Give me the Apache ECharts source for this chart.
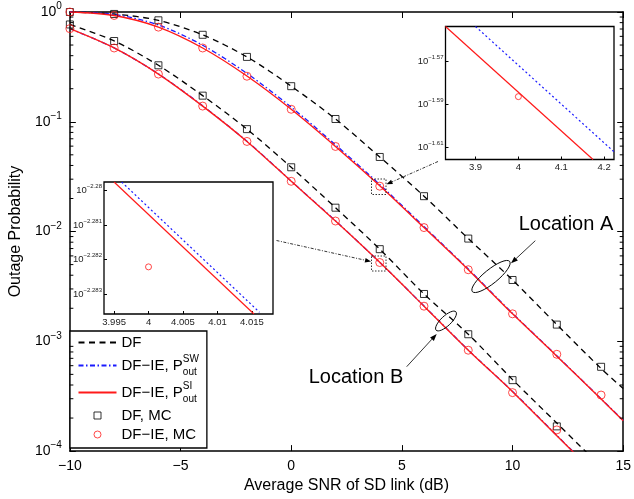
<!DOCTYPE html>
<html>
<head>
<meta charset="utf-8">
<script src="https://cdn.jsdelivr.net/npm/echarts@6/dist/echarts.min.js"></script>
<style>
  html, body { margin: 0; padding: 0; background: #fff; }
  #chart { width: 634px; height: 499px; }
</style>
</head>
<body>
<div id="chart"></div>
<script>
const FONT = '"Liberation Sans", Arial, Helvetica, sans-serif';

// ---- analytical curves: average SNR of the SD link (dB) ----
const snrCurveA = [-10, -8, -6, -4, -2, 0, 2, 4, 6, 8, 10, 12, 14, 15];
const snrCurveB = [-10, -8, -6, -4, -2, 0, 2, 4, 6, 8, 10, 12, 14];

// Location A: outage probability
const dfA = [1.0, 0.959, 0.839, 0.619, 0.390, 0.211, 0.106, 0.0478, 0.0210, 0.00863, 0.00362, 0.00142, 0.000566, 0.000371];
const swA = [1.0, 0.951, 0.762, 0.498, 0.276, 0.136, 0.0617, 0.02681, 0.01111, 0.004553, 0.001796, 0.000738, 0.0002995, 0.00019];
const siA = [1.0, 0.929, 0.728, 0.470, 0.261, 0.130, 0.0596, 0.0261, 0.01086, 0.00449, 0.00178, 0.000733, 0.000298, 0.000189];

// Location B: outage probability
const dfB = [0.771, 0.545, 0.327, 0.173, 0.0857, 0.0385, 0.0165, 0.00692, 0.00270, 0.00116, 0.000448, 0.000180, 0.0000721];
const swB = [0.705, 0.471, 0.273, 0.1396, 0.0665, 0.02883, 0.01253, 0.005242, 0.00210, 0.000834, 0.000350, 0.000139, 0.0000553];
const siB = [0.705, 0.470, 0.272, 0.139, 0.0662, 0.0287, 0.01247, 0.00524, 0.00209, 0.000830, 0.000348, 0.000138, 0.0000550];

// ---- Monte Carlo simulation points ----
const snrMcA = [-10, -8, -6, -4, -2, 0, 2, 4, 6, 8, 10, 12, 14];
const snrMcB = [-10, -8, -6, -4, -2, 0, 2, 4, 6, 8, 10, 12];
const dfMcA = [1.0, 0.96, 0.84, 0.62, 0.39, 0.211, 0.106, 0.0478, 0.021, 0.00863, 0.00362, 0.00142, 0.000586];
const ieMcA = [1.0, 0.93, 0.728, 0.47, 0.26, 0.13, 0.0596, 0.0259, 0.01087, 0.00449, 0.00178, 0.000762, 0.000324];
const dfMcB = [0.77, 0.544, 0.327, 0.173, 0.0857, 0.0385, 0.0165, 0.00691, 0.0027, 0.00116, 0.000443, 0.000168];
const ieMcB = [0.705, 0.47, 0.272, 0.139, 0.0662, 0.0287, 0.01247, 0.005222, 0.00209, 0.00083, 0.000341, 0.000156];

// ---- close-ups around 4 dB (log10 of outage probability) ----
const zoomA_siX = [3.83, 4.174];
const zoomA_siY = [-1.5536, -1.6158];
const zoomA_swX = [3.9, 4.223];
const zoomA_swY = [-1.5536, -1.6122];
const zoomA_mc = [[4, -1.5864]];
const zoomA_ticksX = [3.9, 4, 4.1, 4.2];
const zoomA_ticksY = [-1.61, -1.59, -1.57];

const zoomB_siX = [3.995, 4.0153];
const zoomB_siY = [-2.27976, -2.28357];
const zoomB_swX = [3.9961, 4.0161];
const zoomB_swY = [-2.27976, -2.28352];
const zoomB_mc = [[4, -2.28221]];
const zoomB_ticksX = [3.995, 4, 4.005, 4.01, 4.015];
const zoomB_ticksY = [-2.283, -2.282, -2.281, -2.28];

// main axis ticks
const decades = [0.0001, 0.001, 0.01, 0.1, 1];
const minorMultipliers = [2, 3, 4, 5, 6, 7, 8, 9];

const pts = (xs, ys) => xs.map((x, i) => [x, ys[i]]);
const minus = s => String(s).replace('-', '\u2212');

const BLACK_DASH = [6, 4.5];
const BLUE_DASHDOT = [5, 2.5, 1.5, 2.5];

function curve(name, xs, ys, color, type, width) {
  return {
    type: 'line', name, xAxisIndex: 0, yAxisIndex: 0,
    data: pts(xs, ys), symbol: 'none', smooth: 0.3, clip: true, silent: true,
    lineStyle: { color, width, type }, itemStyle: { color }
  };
}
function marks(name, xs, ys, symbol, size, color) {
  return {
    type: 'scatter', name, xAxisIndex: 0, yAxisIndex: 0,
    data: pts(xs, ys), symbol, symbolSize: size, silent: true, z: 4,
    itemStyle: { color: 'rgba(0,0,0,0)', borderColor: color, borderWidth: 1 }
  };
}

const SQUARE = 'path://M0,0L10,0L10,10L0,10Z';

// minor ticks on a log axis (2..9 per decade)
const minorTicks = [];
decades.slice(0, -1).forEach(d => minorMultipliers.forEach(m => minorTicks.push([-10, d * m])));

const series = [
  curve('DF', snrCurveA, dfA, '#000', BLACK_DASH, 1.3),
  curve('DF', snrCurveB, dfB, '#000', BLACK_DASH, 1.3),
  curve('SW', snrCurveA, swA, '#1a1aff', BLUE_DASHDOT, 1.3),
  curve('SW', snrCurveB, swB, '#1a1aff', BLUE_DASHDOT, 1.3),
  curve('SI', snrCurveA, siA, '#ff1a1a', 'solid', 1.4),
  curve('SI', snrCurveB, siB, '#ff1a1a', 'solid', 1.4),
  marks('DFMC', snrMcA, dfMcA, SQUARE, 7, '#000'),
  marks('DFMC', snrMcB, dfMcB, SQUARE, 7, '#000'),
  marks('IEMC', snrMcA, ieMcA, 'circle', 8, '#ff1a1a'),
  marks('IEMC', snrMcB, ieMcB, 'circle', 8, '#ff1a1a'),
  {
    type: 'custom', xAxisIndex: 0, yAxisIndex: 0, silent: true, z: 6, clip: false,
    data: minorTicks, encode: { x: 0, y: 1 },
    renderItem(params, api) {
      const p = api.coord([-10, api.value(1)]);
      const cs = params.coordSys;
      const L = 3.5;
      const st = { stroke: '#000', lineWidth: 1 };
      return {
        type: 'group', children: [
          { type: 'line', shape: { x1: cs.x, y1: p[1], x2: cs.x + L, y2: p[1] }, style: st },
          { type: 'line', shape: { x1: cs.x + cs.width, y1: p[1], x2: cs.x + cs.width - L, y2: p[1] }, style: st }
        ]
      };
    }
  },
  // close-up A
  { type: 'line', xAxisIndex: 2, yAxisIndex: 2, data: pts(zoomA_swX, zoomA_swY), symbol: 'none', silent: true,
    lineStyle: { color: '#1a1aff', width: 1.2, type: [2, 2.5] } },
  { type: 'line', xAxisIndex: 2, yAxisIndex: 2, data: pts(zoomA_siX, zoomA_siY), symbol: 'none', silent: true,
    lineStyle: { color: '#ff1a1a', width: 1.2 } },
  { type: 'scatter', xAxisIndex: 2, yAxisIndex: 2, data: zoomA_mc, symbol: 'circle', symbolSize: 6, silent: true,
    itemStyle: { color: 'rgba(0,0,0,0)', borderColor: '#ff1a1a', borderWidth: 1 } },
  // close-up B
  { type: 'line', xAxisIndex: 3, yAxisIndex: 3, data: pts(zoomB_swX, zoomB_swY), symbol: 'none', silent: true,
    lineStyle: { color: '#1a1aff', width: 1.2, type: [2, 2.5] } },
  { type: 'line', xAxisIndex: 3, yAxisIndex: 3, data: pts(zoomB_siX, zoomB_siY), symbol: 'none', silent: true,
    lineStyle: { color: '#ff1a1a', width: 1.2 } },
  { type: 'scatter', xAxisIndex: 3, yAxisIndex: 3, data: zoomB_mc, symbol: 'circle', symbolSize: 6, silent: true,
    itemStyle: { color: 'rgba(0,0,0,0)', borderColor: '#ff1a1a', borderWidth: 1 } }
];

const axisBlack = { onZero: false, lineStyle: { color: '#000', width: 1.5 } };
const tickIn = (len) => ({ inside: true, length: len, lineStyle: { color: '#000', width: 1 } });
const noSplit = { show: false };

const logLabelRich = {
  b: { fontSize: 14, fontFamily: FONT, color: '#000' },
  s: { fontSize: 10, fontFamily: FONT, color: '#000', padding: [0, 0, 11, 0] }
};
const zoomLabelRich = {
  b: { fontSize: 9.5, fontFamily: FONT, color: '#222' },
  s: { fontSize: 6, fontFamily: FONT, color: '#222', padding: [0, 0, 8, 0] }
};
const expFmt = v => '{b|10}{s|' + minus(String(+v.toFixed(3))) + '}';

function zoomAxes(grid, xr, yr, tx, ty) {
  return {
    x: {
      type: 'value', gridIndex: grid, min: xr[0], max: xr[1],
      axisLine: { show: false, onZero: false }, splitLine: noSplit,
      axisTick: { ...tickIn(3), customValues: tx },
      axisLabel: { customValues: tx, fontSize: 9.5, fontFamily: FONT, color: '#222', margin: 3,
        formatter: v => String(+v.toFixed(3)) }
    },
    y: {
      type: 'value', gridIndex: grid, min: yr[0], max: yr[1],
      axisLine: { show: false, onZero: false }, splitLine: noSplit,
      axisTick: { ...tickIn(3), customValues: ty },
      axisLabel: { customValues: ty, margin: 2, formatter: expFmt, rich: zoomLabelRich }
    }
  };
}
const zA = zoomAxes(1, [3.83, 4.223], [-1.6158, -1.5536], zoomA_ticksX, zoomA_ticksY);
const zB = zoomAxes(2, [3.99354, 4.01806], [-2.28357, -2.27976], zoomB_ticksX, zoomB_ticksY);

// arrow = shaft + filled head
function arrow(x1, y1, x2, y2, dash, len, half) {
  const dx = x2 - x1, dy = y2 - y1, d = Math.hypot(dx, dy), ux = dx / d, uy = dy / d;
  const bx = x2 - ux * len, by = y2 - uy * len;
  return [
    { type: 'line', z: 100, shape: { x1, y1, x2: bx, y2: by },
      style: { stroke: '#000', lineWidth: 0.8, lineDash: dash } },
    { type: 'polygon', z: 100,
      shape: { points: [[x2, y2], [bx - uy * half, by + ux * half], [bx + uy * half, by - ux * half]] },
      style: { fill: '#000' } }
  ];
}
const DASHDOT = [3, 1.5, 1, 1.5];

const graphics = [
  { type: 'rect', z: 100, shape: { x: 371.5, y: 179, width: 14.5, height: 15.5 },
    style: { fill: 'none', stroke: '#000', lineWidth: 0.8, lineDash: [1.5, 1.5] } },
  { type: 'rect', z: 100, shape: { x: 371.5, y: 256, width: 14.5, height: 15 },
    style: { fill: 'none', stroke: '#000', lineWidth: 0.8, lineDash: [1.5, 1.5] } },
  ...arrow(438, 161.5, 386.5, 184.3, DASHDOT, 6, 2.3),
  ...arrow(276.5, 240.5, 371, 261.5, DASHDOT, 6, 2.3),
  ...arrow(535.3, 240.7, 511, 263.3, null, 7, 2.6),
  ...arrow(406.7, 366.7, 436.7, 334, null, 7, 2.6),
  { type: 'ellipse', z: 100, x: 491, y: 276.5, rotation: 39 * Math.PI / 180,
    shape: { cx: 0, cy: 0, rx: 24, ry: 7 }, style: { fill: 'none', stroke: '#000', lineWidth: 0.9 } },
  { type: 'ellipse', z: 100, x: 446, y: 321, rotation: 43 * Math.PI / 180,
    shape: { cx: 0, cy: 0, rx: 13.5, ry: 5 }, style: { fill: 'none', stroke: '#000', lineWidth: 0.9 } },
  { type: 'text', z: 100, style: { text: 'Location A', x: 566, y: 224, font: '20px ' + FONT, fill: '#000',
    textAlign: 'center', textVerticalAlign: 'middle' } },
  { type: 'text', z: 100, style: { text: 'Location B', x: 356, y: 377, font: '20px ' + FONT, fill: '#000',
    textAlign: 'center', textVerticalAlign: 'middle' } }
];

const legendNames = {
  'DF': '{t|DF}',
  'SW': '{t|DF\u2212IE, P}{sup|SW}{sub|out}',
  'SI': '{t|DF\u2212IE, P}{sup|SI}{sub|out}',
  'DFMC': '{t|DF, MC}',
  'IEMC': '{t|DF\u2212IE, MC}'
};
const hiddenDot = { color: 'rgba(0,0,0,0)', borderWidth: 0, opacity: 0 };

const option = {
  animation: false,
  backgroundColor: '#fff',
  grid: [
    { left: 63, top: 12, right: 8, bottom: 46 },
    { left: 445.5, top: 26.5, width: 168.5, height: 133, show: true, backgroundColor: '#fff',
      borderColor: '#000', borderWidth: 1.3 },
    { left: 104, top: 182, width: 169, height: 132, show: true, backgroundColor: '#fff',
      borderColor: '#000', borderWidth: 1.3 }
  ],
  xAxis: [
    { type: 'value', gridIndex: 0, min: -10, max: 15, interval: 5, position: 'bottom',
      axisLine: axisBlack, axisTick: tickIn(6), splitLine: noSplit,
      axisLabel: { fontSize: 14, fontFamily: FONT, color: '#000', margin: 8, formatter: v => minus(v) },
      name: 'Average SNR of SD link (dB)', nameLocation: 'middle', nameGap: 26,
      nameTextStyle: { fontSize: 16, fontFamily: FONT, color: '#000' } },
    { type: 'value', gridIndex: 0, min: -10, max: 15, interval: 5, position: 'top',
      axisLine: axisBlack, axisTick: tickIn(6), splitLine: noSplit, axisLabel: { show: false } },
    zA.x, zB.x
  ],
  yAxis: [
    { type: 'log', logBase: 10, gridIndex: 0, min: 0.0001, max: 1, position: 'left',
      axisLine: axisBlack, axisTick: tickIn(6), splitLine: noSplit,
      axisLabel: { margin: 8, formatter: v => expFmt(Math.round(Math.log10(v))), rich: logLabelRich },
      name: 'Outage Probability', nameLocation: 'middle', nameGap: 38, nameRotate: 90,
      nameTextStyle: { fontSize: 16, fontFamily: FONT, color: '#000' } },
    { type: 'log', logBase: 10, gridIndex: 0, min: 0.0001, max: 1, position: 'right',
      axisLine: axisBlack, axisTick: tickIn(6), splitLine: noSplit, axisLabel: { show: false } },
    zA.y, zB.y
  ],
  legend: {
    orient: 'vertical', left: 70, top: 331,
    padding: [4, 8, 6, 7.5], itemGap: 4, itemWidth: 38, itemHeight: 7,
    backgroundColor: '#fff', borderColor: '#000', borderWidth: 1.3,
    selectedMode: false,
    data: [
      { name: 'DF', itemStyle: hiddenDot },
      { name: 'SW', itemStyle: hiddenDot },
      { name: 'SI', itemStyle: hiddenDot },
      { name: 'DFMC', itemStyle: { borderWidth: 1 } },
      { name: 'IEMC', itemStyle: { borderWidth: 1 } }
    ],
    formatter: n => legendNames[n],
    textStyle: {
      fontSize: 15, fontFamily: FONT, color: '#000',
      rich: {
        t: { fontSize: 15, fontFamily: FONT, color: '#000' },
        sup: { fontSize: 10, fontFamily: FONT, color: '#000', width: 0.1, padding: [0, 0, 13, 0] },
        sub: { fontSize: 10, fontFamily: FONT, color: '#000', padding: [13, 0, 0, 0] }
      }
    }
  },
  graphic: graphics,
  series
};

const chart = echarts.init(document.getElementById('chart'), null, { renderer: 'canvas' });
chart.setOption(option);
</script>
</body>
</html>
